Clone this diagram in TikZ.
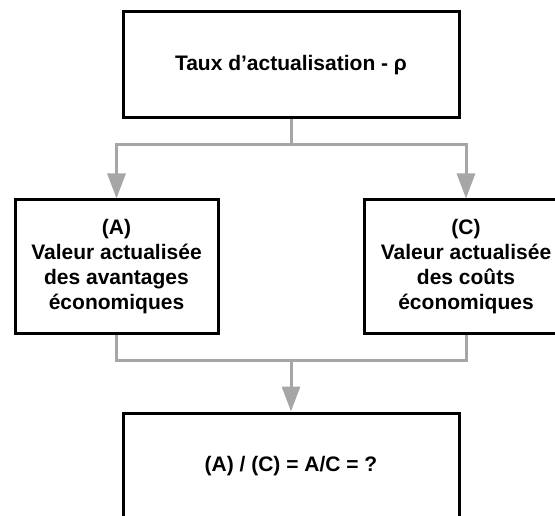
\documentclass[tikz,border=0pt]{standalone}
\usepackage{fontspec}
\setmainfont{Liberation Sans}
\usetikzlibrary{arrows.meta}
\begin{document}
\begin{tikzpicture}[x=1pt,y=-1pt,
  font=\fontsize{21}{25}\selectfont\bfseries,
  box/.style={draw=black,line width=3pt,align=center,inner sep=0pt},
  link/.style={draw=black!35,line width=3pt},
  arr/.style={link,-{Triangle[length=25pt,width=18pt]}}]
  \clip (0,0) rectangle (555,516);
  \node[box,minimum width=336pt,minimum height=106pt] (rate) at (291,65) {Taux d’actualisation - ρ};
  \node[box,minimum width=203pt,minimum height=133pt] (benefits) at (116.5,266.5) {(A)\\Valeur actualisée\\des avantages\\économiques};
  \node[box,minimum width=203pt,minimum height=133pt] (costs) at (466,266.5) {(C)\\Valeur actualisée\\des coûts\\économiques};
  \node[box,minimum width=336pt,minimum height=106pt] (ratio) at (291,466) {(A) / (C) = A/C = ?};
  \coordinate (split) at (291,145);
  \coordinate (merge) at (291,360);
  \draw[link] (rate.south) -- (split);
  \draw[arr] (split) -| (benefits.north);
  \draw[arr] (split) -| (costs.north);
  \draw[link] (benefits.south) |- (merge);
  \draw[link] (costs.south) |- (merge);
  \draw[arr] (merge) -- (ratio.north);
\end{tikzpicture}
\end{document}
